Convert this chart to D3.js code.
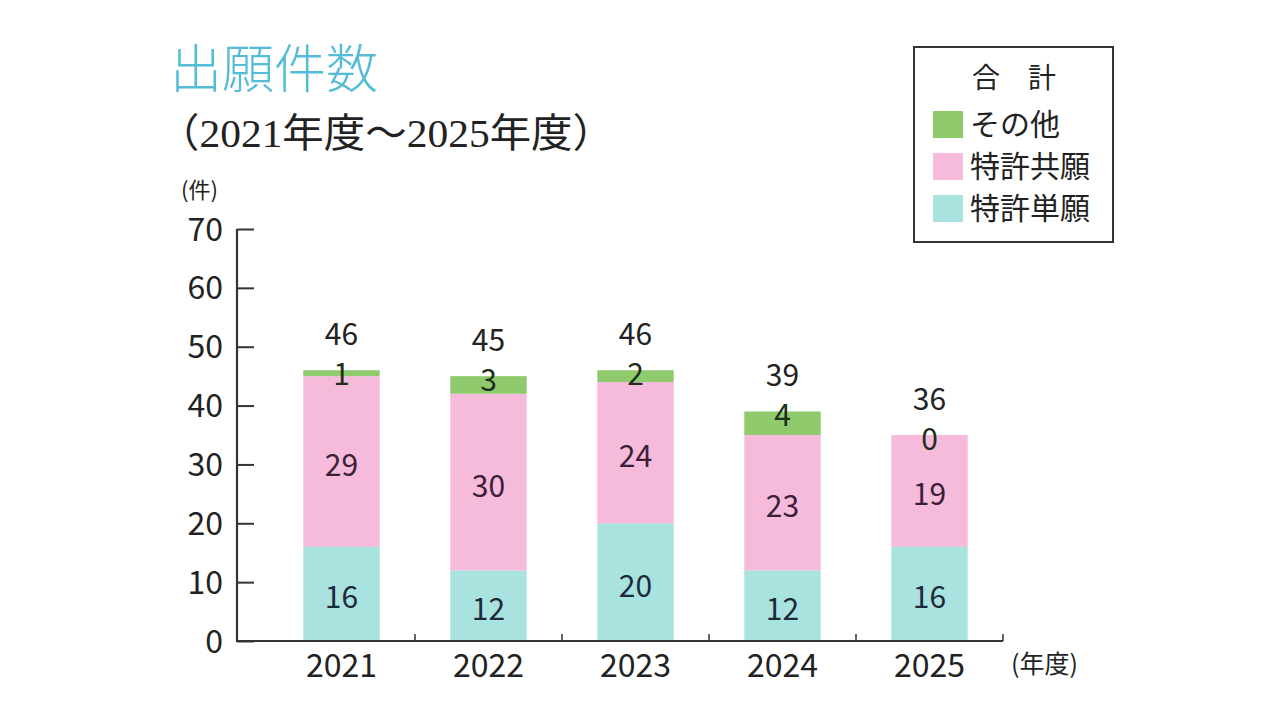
<!DOCTYPE html>
<html><head><meta charset="utf-8">
<script src="https://cdn.jsdelivr.net/npm/d3@7"></script>
<style>
html,body{margin:0;padding:0;background:#fff;}
svg{display:block;}
</style></head>
<body>
<svg id="chart" width="1280" height="720"></svg>
<script>
const years = ["2021","2022","2023","2024","2025"];
const tanGan = [16,12,20,12,16];      // 特許単願
const kyoGan = [29,30,24,23,19];      // 特許共願
const sonota = [1,3,2,4,0];           // その他
const totals = [46,45,46,39,36];      // 合計
const yTicks = [0,10,20,30,40,50,60,70];
const seriesNames = ["特許単願","特許共願","その他"];
const seriesColors = ["#a9e3df","#f6badb","#8fcb6c"];
const labelColors = ["#1d2a3a","#3a1f38","#1e2e1a"];

const svg = d3.select("#chart");
const sans = "'Noto Sans CJK JP','Noto Sans',sans-serif";

const rows = years.map((y,i)=>({year:y, s0:tanGan[i], s1:kyoGan[i], s2:sonota[i], total:totals[i]}));
const stack = d3.stack().keys(["s0","s1","s2"])(rows);

const x = d3.scaleBand().domain(years).range([268,1003]).paddingInner(0.48).paddingOuter(0.24);
const y = d3.scaleLinear().domain([0,70]).range([641,229]);

// Title
svg.append("text").attr("x",170).attr("y",88).attr("font-family",sans).attr("font-size",52)
  .attr("font-weight",300).attr("fill","#55bcd8").text("出願件数");
svg.append("text").attr("x",158).attr("y",147).attr("font-family","'Liberation Serif','Noto Sans CJK JP',serif")
  .attr("font-size",40).attr("fill","#222").attr("textLength",456).attr("lengthAdjust","spacingAndGlyphs")
  .text("（2021年度～2025年度）");

// bars
const g = svg.append("g");
stack.forEach((layer,k)=>{
  g.selectAll(null).data(layer).enter().append("rect")
    .attr("x",d=>x(d.data.year)).attr("width",x.bandwidth())
    .attr("y",d=>y(d[1])).attr("height",d=>y(d[0])-y(d[1]))
    .attr("fill",seriesColors[k]);
});

// segment labels
stack.forEach((layer,k)=>{
  g.selectAll(null).data(layer).enter().append("text")
    .attr("x",d=>x(d.data.year)+x.bandwidth()/2)
    .attr("y",d=>{
      const c=(y(d[0])+y(d[1]))/2;
      return k===2 ? y(d[1])+4 : c+4;
    })
    .attr("dy","0.35em")
    .attr("text-anchor","middle").attr("font-family",sans).attr("font-size",30)
    .attr("fill",labelColors[k]).text(d=>d.data["s"+k]);
});

// totals
g.selectAll(null).data(rows).enter().append("text")
  .attr("x",d=>x(d.year)+x.bandwidth()/2)
  .attr("y",d=>y(d.s0+d.s1+d.s2)-36)
  .attr("dy","0.35em").attr("text-anchor","middle").attr("font-family",sans).attr("font-size",30)
  .attr("fill","#222").text(d=>d.total);

// y axis
const yAxis = d3.axisRight(y).tickValues(yTicks).tickSize(17).tickFormat("");
const ya = svg.append("g").attr("transform","translate(237,0)").call(yAxis);
ya.select(".domain").remove();
ya.selectAll(".tick line").attr("stroke","#333").attr("stroke-width",2);
svg.append("line").attr("x1",237).attr("x2",237).attr("y1",y(70)).attr("y2",y(0)+1)
  .attr("stroke","#333").attr("stroke-width",2.2);
svg.selectAll(null).data(yTicks).enter().append("text")
  .attr("x",223).attr("y",d=>y(d)).attr("dy","0.36em").attr("text-anchor","end")
  .attr("font-family",sans).attr("font-size",32).attr("fill","#222").text(d=>d);
svg.append("text").attr("x",181).attr("y",198).attr("font-family",sans).attr("font-size",22)
  .attr("fill","#222").text("(件)");

// x axis
svg.append("line").attr("x1",236).attr("x2",1003).attr("y1",y(0)).attr("y2",y(0))
  .attr("stroke","#333").attr("stroke-width",2);
const step = x.step();
svg.selectAll(null).data(years).enter().append("line")
  .attr("x1",d=>x(d)+x.bandwidth()/2+step/2)
  .attr("x2",d=>x(d)+x.bandwidth()/2+step/2)
  .attr("y1",y(0)).attr("y2",y(0)-7).attr("stroke","#333").attr("stroke-width",1.5);
svg.selectAll(null).data(years).enter().append("text")
  .attr("x",d=>x(d)+x.bandwidth()/2).attr("y",665).attr("dy","0.36em")
  .attr("text-anchor","middle").attr("font-family",sans).attr("font-size",32).attr("fill","#222").text(d=>d);
svg.append("text").attr("x",1011).attr("y",664).attr("dy","0.36em").attr("font-family",sans)
  .attr("font-size",25).attr("fill","#222").text("(年度)");

// legend
const lg = svg.append("g");
lg.append("rect").attr("x",914).attr("y",47).attr("width",199).attr("height",195)
  .attr("fill","#fff").attr("stroke","#333").attr("stroke-width",2);
lg.append("text").attr("x",1014).attr("y",78).attr("dy","0.36em").attr("text-anchor","middle")
  .attr("font-family",sans).attr("font-size",28).attr("fill","#222").text("合　計");
const legOrder = [2,1,0];
legOrder.forEach((k,i)=>{
  const cy = 124 + i*42;
  lg.append("rect").attr("x",933).attr("y",cy-13).attr("width",30).attr("height",27).attr("fill",seriesColors[k]);
  lg.append("text").attr("x",970).attr("y",cy).attr("dy","0.36em").attr("font-family",sans)
    .attr("font-size",30).attr("fill","#222").text(seriesNames[k]);
});
</script>
</body></html>
